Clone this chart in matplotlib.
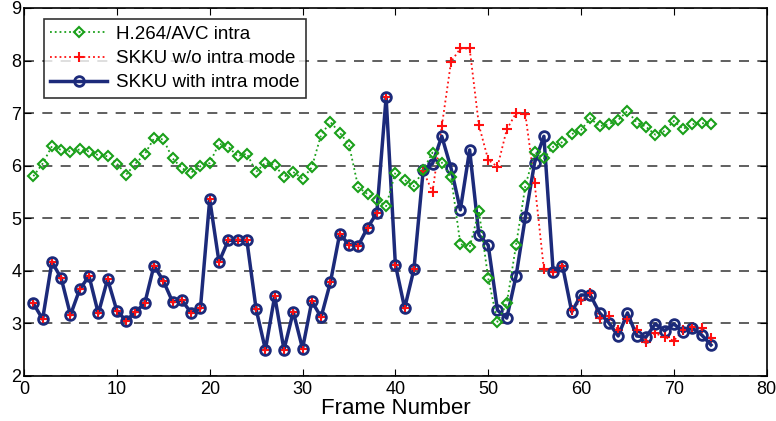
import numpy as np
import matplotlib
matplotlib.use('Agg')
import matplotlib.pyplot as plt

plt.rcParams['font.family'] = ['Liberation Sans', 'DejaVu Sans']

frames = list(range(1, 75))

h264_intra = [5.80, 6.04, 6.37, 6.30, 6.27, 6.31, 6.27, 6.20, 6.18, 6.04,
              5.83, 6.04, 6.22, 6.52, 6.50, 6.14, 5.95, 5.87, 5.99, 6.05,
              6.42, 6.36, 6.18, 6.23, 5.88, 6.06, 6.01, 5.79, 5.88, 5.75,
              5.97, 6.59, 6.83, 6.63, 6.40, 5.59, 5.46, 5.35, 5.23, 5.87,
              5.73, 5.61, 5.92, 6.25, 6.06, 5.79, 4.51, 4.45, 5.14, 3.86,
              3.03, 3.38, 4.49, 5.61, 6.26, 6.14, 6.36, 6.45, 6.60, 6.68,
              6.90, 6.75, 6.79, 6.87, 7.04, 6.82, 6.74, 6.59, 6.66, 6.85,
              6.70, 6.79, 6.81, 6.79]

skku_wo_intra = [3.38, 3.08, 4.17, 3.86, 3.16, 3.65, 3.90, 3.19, 3.84, 3.24,
                 3.05, 3.22, 3.38, 4.10, 3.81, 3.41, 3.44, 3.20, 3.29, 5.36,
                 4.17, 4.58, 4.58, 4.58, 3.27, 2.50, 3.52, 2.50, 3.22, 2.52,
                 3.42, 3.12, 3.78, 4.70, 4.50, 4.48, 4.82, 5.10, 7.30, 4.12,
                 3.29, 4.03, 5.90, 5.50, 6.75, 7.98, 8.23, 8.23, 6.77, 6.11,
                 5.98, 6.69, 7.00, 6.98, 5.67, 4.03, 3.98, 4.10, 3.25, 3.44,
                 3.57, 3.10, 3.14, 2.87, 3.08, 2.87, 2.65, 2.81, 2.74, 2.67,
                 2.87, 2.93, 2.91, 2.72]

skku_with_intra = [3.38, 3.08, 4.17, 3.86, 3.16, 3.65, 3.90, 3.19, 3.84, 3.24,
                   3.05, 3.22, 3.38, 4.10, 3.81, 3.41, 3.44, 3.20, 3.29, 5.36,
                   4.17, 4.58, 4.58, 4.58, 3.27, 2.50, 3.52, 2.50, 3.22, 2.52,
                   3.42, 3.12, 3.78, 4.70, 4.50, 4.48, 4.82, 5.10, 7.30, 4.12,
                   3.29, 4.03, 5.92, 6.04, 6.56, 5.95, 5.16, 6.30, 4.68, 4.49,
                   3.25, 3.10, 3.90, 5.02, 6.06, 6.56, 3.98, 4.10, 3.22, 3.54,
                   3.54, 3.20, 3.01, 2.76, 3.20, 2.76, 2.74, 2.99, 2.86, 2.99,
                   2.84, 2.91, 2.78, 2.59]

green = '#1aa01a'
red = '#ff1010'
navy = '#1c2a7a'

fig = plt.figure(figsize=(7.76, 4.21), dpi=100)
ax = fig.add_axes([0.031, 0.107, 0.957, 0.874])

ax.plot(frames, h264_intra, ':', color=green, lw=1.3, marker='D', ms=5,
        mfc='none', mec=green, mew=1.5, label='H.264/AVC intra', zorder=3)
# red dotted line sits under the blue line, its markers show on top
ax.plot(frames, skku_wo_intra, ':', color=red, lw=1.3, marker='+', ms=7,
        mew=1.5, label='SKKU w/o intra mode', zorder=2)
ax.plot(frames, skku_with_intra, '-', color=navy, lw=2.5, marker='o', ms=7,
        mfc='none', mec=navy, mew=2, label='SKKU with intra mode', zorder=2.5)
ax.plot(frames, skku_wo_intra, linestyle='none', marker='+', ms=5, mew=1.3,
        color=red, zorder=2.6)

ax.set_xlim(0, 80)
ax.set_ylim(2, 9)
ax.set_xticks(np.arange(0, 81, 10))
ax.set_yticks(np.arange(2, 10, 1))
ax.yaxis.grid(True, linestyle=(0, (6, 5)), color='#444444', lw=1.2)
ax.set_axisbelow(True)
ax.tick_params(direction='in', top=True, right=True, labelsize=13, length=5)
ax.tick_params(axis='x', pad=3.5)
ax.tick_params(axis='y', pad=2)
for s in ax.spines.values():
    s.set_linewidth(1.2)
ax.set_xlabel('Frame Number', fontsize=16, labelpad=0)

leg = ax.legend(loc='upper left', bbox_to_anchor=(0.014, 0.995), fontsize=13.5,
                frameon=True, fancybox=False, edgecolor='black', handlelength=3.0,
                handletextpad=0.5, borderpad=0.35, labelspacing=0.38)
leg.get_frame().set_linewidth(1.2)

fig.savefig('out.png', dpi=100)
